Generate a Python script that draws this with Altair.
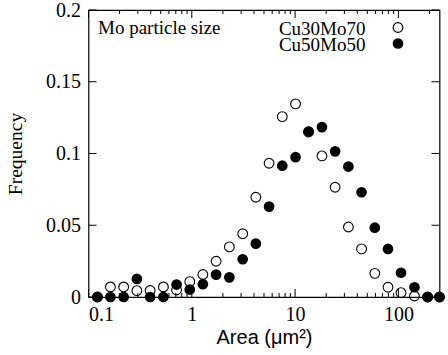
import altair as alt
import pandas as pd

# ---- data ----
area = [0.122, 0.163, 0.219, 0.294, 0.395, 0.531, 0.712, 0.956, 1.28, 1.72,
        2.31, 3.11, 4.17, 5.60, 7.52, 10.1, 13.5, 18.2, 24.4, 32.8,
        44.0, 59.1, 79.3, 106.0, 143.0, 192.0, 250.0]
cu30mo70 = [0.0, 0.0070, 0.0070, 0.0044, 0.0045, 0.0070, 0.0049, 0.0107, 0.0157, 0.0249,
            0.0349, 0.0441, 0.0695, 0.0932, 0.1257, 0.1346, 0.1150, 0.0983, 0.0765, 0.0488,
            0.0335, 0.0165, 0.0068, 0.0030, 0.0007, 0.0, 0.0]
cu50mo50 = [0.0, 0.0, 0.0, 0.0126, 0.0, 0.0, 0.0087, 0.0052, 0.0089, 0.0156,
            0.0137, 0.0263, 0.0372, 0.0630, 0.0915, 0.0974, 0.1153, 0.1184, 0.1015, 0.0909,
            0.0730, 0.0483, 0.0335, 0.0169, 0.0068, 0.0, 0.0]
series_names = ["Cu30Mo70", "Cu50Mo50"]
legend_title = ["Mo particle size"]

x_major = [0.1, 1, 10, 100]
x_minor = [0.2, 0.3, 0.4, 0.5, 0.6, 0.7, 0.8, 0.9,
           2, 3, 4, 5, 6, 7, 8, 9,
           20, 30, 40, 50, 60, 70, 80, 90, 200]
y_major = [0, 0.05, 0.1, 0.15, 0.2]

W, H = 351, 287
SERIF = "Liberation Serif"
SANS = "Liberation Sans"

xs = alt.Scale(type="log", domain=[0.1, 250], nice=False)
ys = alt.Scale(domain=[0, 0.2], nice=False, zero=False)

x_axis = alt.Axis(values=x_major, format="~g", ticks=False, domain=False, grid=False,
                  labelFont=SERIF, labelFontSize=20, labelPadding=7, labelColor="black",
                  title="Area (μm²)", titleFont=SANS, titleFontSize=20, titleFontWeight="normal",
                  titleColor="black", titleX=W / 2, titleY=40, titleBaseline="middle",
                  titleAlign="center")
y_axis = alt.Axis(values=y_major, format="~g", ticks=False, domain=False, grid=False,
                  labelFont=SERIF, labelFontSize=20, labelPadding=8, labelColor="black",
                  title="Frequency", titleFont=SERIF, titleFontSize=19.5, titleFontWeight="normal",
                  titleColor="black", titleX=-73, titleY=H / 2, titleAngle=-90,
                  titleBaseline="middle", titleAlign="center")

df = pd.DataFrame({"area": area, "cu30mo70": cu30mo70, "cu50mo50": cu50mo50})

open_pts = alt.Chart(df).mark_point(shape="circle", filled=False, color="black",
                                    size=95, strokeWidth=1.1, opacity=1).encode(
    x=alt.X("area:Q", scale=xs, axis=x_axis),
    y=alt.Y("cu30mo70:Q", scale=ys, axis=y_axis),
)
filled_pts = alt.Chart(df).mark_circle(color="black", size=115, opacity=1).encode(
    x=alt.X("area:Q", scale=xs, axis=x_axis),
    y=alt.Y("cu50mo50:Q", scale=ys, axis=y_axis),
)

# inward ticks on all four sides
def xticks(vals, length):
    d = pd.DataFrame({"v": vals})
    bot = alt.Chart(d).mark_rule(color="black", strokeWidth=1).encode(
        x=alt.X("v:Q", scale=xs, axis=x_axis), y=alt.value(H), y2=alt.value(H - length))
    top = alt.Chart(d).mark_rule(color="black", strokeWidth=1).encode(
        x=alt.X("v:Q", scale=xs, axis=x_axis), y=alt.value(0), y2=alt.value(length))
    return [bot, top]

dy = pd.DataFrame({"v": y_major})
yl = alt.Chart(dy).mark_rule(color="black", strokeWidth=1).encode(
    y=alt.Y("v:Q", scale=ys, axis=y_axis), x=alt.value(0), x2=alt.value(8))
yr = alt.Chart(dy).mark_rule(color="black", strokeWidth=1).encode(
    y=alt.Y("v:Q", scale=ys, axis=y_axis), x=alt.value(W - 8), x2=alt.value(W))

# key (gnuplot style: label then symbol)
t_title = alt.Chart(pd.DataFrame({"t": legend_title})).mark_text(
    align="left", baseline="alphabetic", font=SERIF, fontSize=19, color="black").encode(
    text="t:N", x=alt.value(9.5), y=alt.value(24))
t1 = alt.Chart(pd.DataFrame({"t": [series_names[0]]})).mark_text(
    align="right", baseline="alphabetic", font=SERIF, fontSize=19, color="black").encode(
    text="t:N", x=alt.value(277), y=alt.value(24.5))
t2 = alt.Chart(pd.DataFrame({"t": [series_names[1]]})).mark_text(
    align="right", baseline="alphabetic", font=SERIF, fontSize=19, color="black").encode(
    text="t:N", x=alt.value(277), y=alt.value(40.5))
k1 = alt.Chart(pd.DataFrame({"t": [series_names[0]]})).mark_point(
    shape="circle", filled=False, color="black", size=95, strokeWidth=1.1, opacity=1).encode(
    x=alt.value(309.5), y=alt.value(17.5))
k2 = alt.Chart(pd.DataFrame({"t": [series_names[1]]})).mark_circle(
    color="black", size=115, opacity=1).encode(
    x=alt.value(309.5), y=alt.value(33.5))

chart = alt.layer(
    *xticks(x_major, 8), *xticks(x_minor, 4), yl, yr,
    open_pts, filled_pts, t_title, t1, t2, k1, k2
).properties(
    width=W, height=H,
    autosize=alt.AutoSizeParams(type="none"),
    padding={"left": 88.5, "top": 10, "right": 8.5, "bottom": 58},
    background="white",
).configure_view(stroke="black", strokeWidth=1.2)

chart.save("out.html", embed_options={"renderer": "svg", "actions": False})
